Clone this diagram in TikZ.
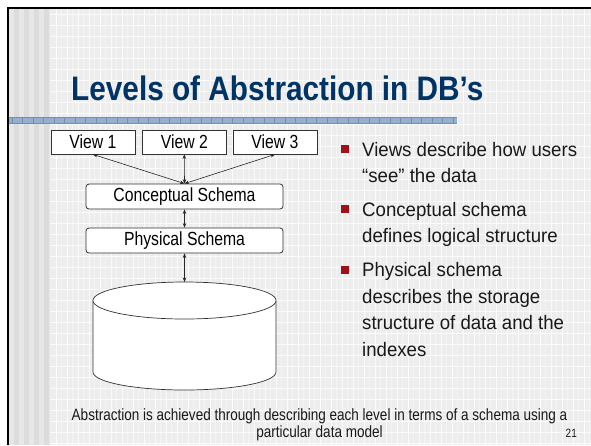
\documentclass[tikz,border=0pt]{standalone}
\usepackage{fontspec}
\setmainfont{Liberation Sans}
\newfontfamily\titlefont[FakeStretch=0.875]{Liberation Sans}
\newfontfamily\narrowfont[FakeStretch=0.83]{Liberation Sans}
\newfontfamily\bodyfont[FakeStretch=0.955]{Liberation Sans}
\usetikzlibrary{arrows.meta}
\definecolor{titleblue}{RGB}{0,51,102}
\definecolor{bulletred}{RGB}{160,16,24}
\definecolor{gridbase}{RGB}{237,237,237}
\definecolor{stripeA}{RGB}{231,231,231}
\definecolor{stripeB}{RGB}{220,220,220}
\definecolor{barblue}{RGB}{150,175,206}
\definecolor{bardark}{RGB}{112,142,182}
\definecolor{boxline}{RGB}{50,50,50}
\tikzset{
  viewbox/.style={draw=boxline, line width=0.8pt, fill=white, minimum width=84pt,
    minimum height=24pt, inner sep=0pt, font=\narrowfont\fontsize{19}{19}\selectfont},
  schemabox/.style={draw=boxline, line width=0.8pt, fill=white, rounded corners=3pt,
    minimum width=197pt, minimum height=25pt, inner sep=0pt,
    font=\narrowfont\fontsize{19}{19}\selectfont},
  link/.style={<->, >={Stealth[length=4.5pt,width=3.5pt]}, line width=0.6pt, draw=black!85},
  bodyline/.style={anchor=base west, inner sep=0pt, font=\bodyfont\fontsize{19.5}{19.5}\selectfont,
    text=black!90},
  footline/.style={anchor=base, inner sep=0pt, font=\narrowfont\fontsize{16.3}{16.3}\selectfont,
    text=black!90},
  bulletsq/.style={fill=bulletred, draw=none, minimum size=8pt, inner sep=0pt}
}
\begin{document}
\begin{tikzpicture}[x=1pt,y=-1pt]
\useasboundingbox (0,0) rectangle (591,445);
% page and slide background
\fill[white] (0,0) rectangle (591,445);
\fill[gridbase] (9,9) rectangle (591,445);
% vertical stripes along the left margin
\fill[stripeA] (9,9) rectangle (50,445);
\foreach \xa in {14,24,34,44} \fill[stripeB] (\xa,9) rectangle (\xa+5,445);
% light grid over the main area
\foreach \x in {56,67,...,591} \draw[white, line width=1pt, opacity=0.8] (\x,9) -- (\x,445);
\foreach \y in {14,25,...,445} \draw[white, line width=1pt, opacity=0.8] (50,\y) -- (591,\y);
\foreach \x in {61.5,72.5,...,591} \draw[white, line width=0.5pt, opacity=0.4] (\x,9) -- (\x,445);
% frame
\draw[black, line width=2.5pt] (7.8,445) -- (7.8,7.8) -- (591,7.8);
% title
\node[anchor=base west, inner sep=0pt, text=titleblue,
  font=\titlefont\bfseries\fontsize{34}{34}\selectfont] (title) at (71,100) {Levels of Abstraction in DB’s};
% separator bar under the title
\fill[barblue] (9,117) rectangle (457,123.5);
\foreach \x in {12,22.5,...,457} \draw[bardark, line width=0.6pt] (\x,117) -- (\x,123.5);
\draw[bardark, line width=0.4pt] (9,117) -- (457,117) (9,123.5) -- (457,123.5);
% views
\node[viewbox] (v1) at (93,142) {View 1};
\node[viewbox] (v2) at (184.3,142) {View 2};
\node[viewbox] (v3) at (275,142) {View 3};
% schemas
\node[schemabox] (cs) at (184.5,196.5) {Conceptual Schema};
\node[schemabox] (ps) at (184.5,240.5) {Physical Schema};
% database cylinder
\fill[white] (93,300.5) -- (93,372) arc[start angle=180, end angle=360, x radius=91.5pt, y radius=18pt] -- (276,300.5) -- cycle;
\draw[boxline, line width=0.7pt] (93,300.5) -- (93,372) arc[start angle=180, end angle=360, x radius=91.5pt, y radius=18pt] -- (276,300.5);
\draw[boxline, fill=white, line width=0.7pt] (184.5,300.5) ellipse [x radius=91.5pt, y radius=18.5pt];
\coordinate (db) at (184.5,282);
% connectors
\draw[link] (v1.south) -- (cs.north);
\draw[link] (v2.south) -- (cs.north);
\draw[link] (v3.south) -- (cs.north);
\draw[link] (cs.south) -- (ps.north);
\draw[link] (ps.south) -- (db);
% bullet list
\node[bulletsq] (b1) at (344.5,149) {};
\node[bodyline] (t1a) at (362,156) {Views describe how users};
\node[bodyline] (t1b) at (362,182.5) {“see” the data};
\node[bulletsq] (b2) at (344.5,209) {};
\node[bodyline] (t2a) at (362,216) {Conceptual schema};
\node[bodyline] (t2b) at (362,242.5) {defines logical structure};
\node[bulletsq] (b3) at (344.5,269.5) {};
\node[bodyline] (t3a) at (362,276.5) {Physical schema};
\node[bodyline] (t3b) at (362,303) {describes the storage};
\node[bodyline] (t3c) at (362,329.5) {structure of data and the};
\node[bodyline] (t3d) at (362,356) {indexes};
% footer
\node[footline] (f1) at (319.5,420) {Abstraction is achieved through describing each level in terms of a schema using a};
\node[footline] (f2) at (319.5,437.5) {particular data model};
\node[anchor=base east, inner sep=0pt, font=\narrowfont\fontsize{12}{12}\selectfont, text=black!90] (pg) at (577,437.5) {21};
\end{tikzpicture}
\end{document}
